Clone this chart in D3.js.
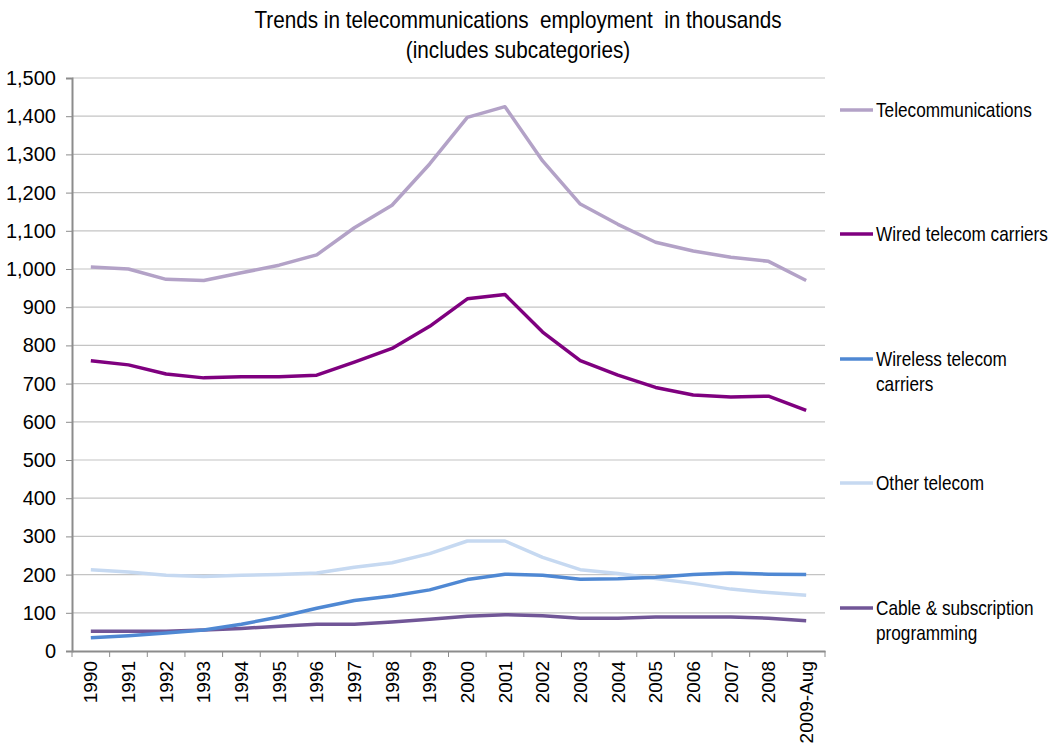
<!DOCTYPE html>
<html>
<head>
<meta charset="utf-8">
<script src="https://cdn.jsdelivr.net/npm/d3@7"></script>
<style>
  body { margin: 0; background: #fff; }
  text { font-family: "Liberation Sans Narrow", "Arial Narrow", "Liberation Sans", sans-serif; fill: #000; }
</style>
</head>
<body>
<div id="chart"></div>
<script>
  var width = 1059,
  height = 750;

  // data (thousands)
  var years = ["1990","1991","1992","1993","1994","1995","1996","1997","1998","1999",
    "2000","2001","2002","2003","2004","2005","2006","2007","2008","2009-Aug"];
  var telecom = [1005,1000,973,970,990,1010,1037,1108,1167,1275,1397,1425,1283,1170,1117,1070,1047,1031,1020,970];
  var wired = [760,749,725,715,718,718,722,756,792,850,922,933,835,760,722,690,670,665,667,630];
  var wireless = [35,40,47,55,70,89,112,132,144,160,187,201,198,188,189,193,200,204,201,200];
  var other = [213,207,198,195,198,200,204,219,231,255,288,288,245,213,203,190,177,162,153,146];
  var cable = [52,52,52,55,59,65,70,70,76,83,91,95,92,86,86,89,89,89,86,79];
  var yTicks = [0,100,200,300,400,500,600,700,800,900,1000,1100,1200,1300,1400,1500];

  var series = [
    { name: ["Telecommunications"], values: telecom, color: "#b3a2c7", ly: 110 },
    { name: ["Wired telecom carriers"], values: wired, color: "#7f007f", ly: 234 },
    { name: ["Wireless telecom", "carriers"], values: wireless, color: "#4f88d3", ly: 359 },
    { name: ["Other telecom"], values: other, color: "#c6d9f1", ly: 483 },
    { name: ["Cable & subscription", "programming"], values: cable, color: "#715697", ly: 608 }
  ];

  var margin = {left: 72, right: 234, top: 78, bottom: 99};

  var svg = d3.select("#chart").append("svg")
      .attr("width", width)
      .attr("height", height);

  var x = d3.scaleBand()
      .domain(years)
      .range([margin.left, width - margin.right]);

  var y = d3.scaleLinear()
      .domain([0, 1500])
      .range([height - margin.bottom, margin.top]);

  // gridlines
  svg.append("g")
    .selectAll("line")
    .data(yTicks.slice(1))
    .enter().append("line")
      .attr("x1", margin.left)
      .attr("x2", width - margin.right)
      .attr("y1", function(d) { return y(d); })
      .attr("y2", function(d) { return y(d); })
      .attr("stroke", "#c4c4c4")
      .attr("stroke-width", 1.2);

  // y axis
  var gy = svg.append("g")
      .attr("transform", "translate(" + margin.left + ",0)")
      .call(d3.axisLeft(y)
        .tickValues(yTicks)
        .tickSize(6)
        .tickPadding(10)
        .tickFormat(d3.format(",")));
  gy.select(".domain").attr("stroke", "#8c8c8c").attr("stroke-width", 2);
  gy.selectAll(".tick line").attr("stroke", "#8c8c8c");
  gy.selectAll(".tick text").style("font-size", "20px");

  // x axis
  var gx = svg.append("g")
      .attr("transform", "translate(0," + (height - margin.bottom) + ")")
      .call(d3.axisBottom(x).tickSize(0).tickSizeOuter(0));
  gx.select(".domain").attr("stroke", "#8c8c8c").attr("stroke-width", 2);
  gx.selectAll(".tick text")
      .style("font-size", "19px")
      .attr("text-anchor", "end")
      .attr("transform", "rotate(-90)")
      .attr("x", -10)
      .attr("y", 0)
      .attr("dy", "0.35em");
  // category boundary ticks
  gx.append("g")
    .selectAll("line")
    .data(years.concat(["end"]))
    .enter().append("line")
      .attr("x1", function(d, i) { return margin.left + i * x.step(); })
      .attr("x2", function(d, i) { return margin.left + i * x.step(); })
      .attr("y1", 0)
      .attr("y2", 6)
      .attr("stroke", "#8c8c8c");

  var line = d3.line()
      .x(function(d, i) { return x(years[i]) + x.bandwidth() / 2; })
      .y(function(d) { return y(d); });

  // draw back to front so telecom sits at the back
  svg.append("g")
    .selectAll("path")
    .data(series.slice().reverse())
    .enter().append("path")
      .attr("d", function(d) { return line(d.values); })
      .attr("fill", "none")
      .attr("stroke", function(d) { return d.color; })
      .attr("stroke-width", 3.5)
      .attr("stroke-linejoin", "round");

  // legend
  var lg = svg.append("g").selectAll("g")
      .data(series)
      .enter().append("g")
      .attr("transform", function(d) { return "translate(840," + d.ly + ")"; });

  lg.append("line")
      .attr("x1", 0).attr("x2", 33)
      .attr("stroke", function(d) { return d.color; })
      .attr("stroke-width", 3.5);

  // narrow the text a bit, the original uses a condensed face
  lg.append("g")
      .attr("transform", "translate(36,0) scale(0.86,1)")
    .append("text")
      .style("font-size", "20px")
      .selectAll("tspan")
      .data(function(d) { return d.name; })
      .enter().append("tspan")
        .attr("x", 0)
        .attr("y", function(d, i) { return i * 25; })
        .attr("dy", "0.35em")
        .text(function(d) { return d; });

  // title
  var tg = svg.append("g")
      .attr("transform", "translate(518,0) scale(0.9,1)");
  tg.append("text")
      .attr("x", 0)
      .attr("y", 28)
      .attr("text-anchor", "middle")
      .attr("xml:space", "preserve")
      .style("white-space", "pre")
      .style("font-size", "23px")
      .text("Trends in telecommunications  employment  in thousands");
  tg.append("text")
      .attr("x", 0)
      .attr("y", 58)
      .attr("text-anchor", "middle")
      .style("font-size", "23px")
      .text("(includes subcategories)");
</script>
</body>
</html>
